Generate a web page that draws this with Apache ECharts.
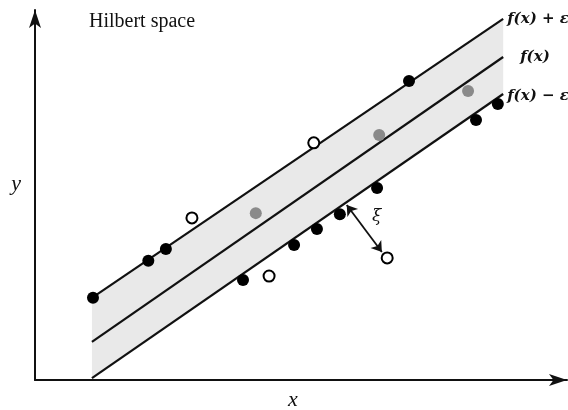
<!DOCTYPE html>
<html><head><meta charset="utf-8">
<script src="https://cdn.jsdelivr.net/npm/echarts@6/dist/echarts.min.js"></script>
<style>html,body{margin:0;padding:0;background:#fff}#c{width:568px;height:410px}</style>
</head><body><div id="c"></div>
<script>
// regression lines (x at ends, y of the three lines)
const lineX = [1.07, 8.80];
const upperY = [2.22, 9.76];
const centerY = [1.03, 8.73];
const lowerY = [0.05, 7.73];
const lineNames = ['f(x) + ε', 'f(x)', 'f(x) − ε'];

// samples
const blackPts = [[1.09,2.22],[2.13,3.22],[2.46,3.54],[3.91,2.70],[4.87,3.65],[5.30,4.08],[5.73,4.48],[6.43,5.19],[7.03,8.08],[8.29,7.03],[8.70,7.46]];
const grayPts = [[4.15,4.51],[6.47,6.62],[8.14,7.81]];
const openPts = [[2.95,4.38],[4.40,2.81],[5.24,6.41],[6.62,3.30]];

// slack arrow
const arrowPts = [[5.86,4.73],[6.52,3.46]];
const arrowLabel = 'ξ';
const titleText = 'Hilbert space';
const xName = 'x';
const yName = 'y';

const serif = 'Liberation Serif';
const mathFont = 'DejaVu Serif';

const chart = echarts.init(document.getElementById('c'), null, {renderer:'canvas'});

function pairs(ys){ return lineX.map((x,i)=>[x, ys[i]]); }
const bandData = lineX.map((x,i)=>[x, lowerY[i], upperY[i]]);

function regLine(name, ys, offset){
  return {
    type:'line', name, data:pairs(ys), symbol:'none', silent:true, z:3,
    lineStyle:{color:'#111', width:2.2},
    endLabel:{show:true, formatter:name, offset:offset, distance:2,
      fontFamily:mathFont, fontStyle:'italic', fontWeight:'bold', fontSize:15, color:'#111'}
  };
}

chart.setOption({
  animation:false,
  backgroundColor:'#fff',
  grid:{left:35, right:1, top:10, bottom:30, containLabel:false, outerBoundsMode:'none'},
  xAxis:{type:'value', min:0, max:10, name:xName, nameLocation:'middle', nameGap:9,
    nameTextStyle:{fontFamily:serif, fontStyle:'italic', fontSize:22, color:'#111', verticalAlign:'top', padding:[0,16,0,0]},
    axisLine:{show:true, onZero:false, symbol:['none','arrow'], symbolSize:[9,18], lineStyle:{color:'#111', width:2}},
    axisTick:{show:false}, axisLabel:{show:false}, splitLine:{show:false}},
  yAxis:{type:'value', min:0, max:10, name:yName, nameLocation:'middle', nameGap:14, nameRotate:0,
    nameTextStyle:{fontFamily:serif, fontStyle:'italic', fontSize:22, color:'#111', verticalAlign:'bottom'},
    axisLine:{show:true, onZero:false, symbol:['none','arrow'], symbolSize:[9,18], lineStyle:{color:'#111', width:2}},
    axisTick:{show:false}, axisLabel:{show:false}, splitLine:{show:false}},
  graphic:[
    {type:'text', left:89, top:12, z:10, style:{text:titleText, font:'20px "Liberation Serif"', fill:'#111'}},
    {type:'text', left:372, top:208, z:10, style:{text:arrowLabel, font:'italic 17px "DejaVu Serif"', fill:'#111'}}
  ],
  series:[
    {type:'custom', silent:true, z:1, data:bandData,
      renderItem:function(params, api){
        if (params.dataIndex !== 0) return null;
        const top = bandData.map(d=>api.coord([d[0], d[2]]));
        const bot = bandData.map(d=>api.coord([d[0], d[1]])).reverse();
        return {type:'polygon', shape:{points: top.concat(bot)}, style:{fill:'#e9e9e9'}};
      }},
    regLine(lineNames[0], upperY, [2,0]),
    regLine(lineNames[1], centerY, [15,0]),
    regLine(lineNames[2], lowerY, [2,2]),
    {type:'lines', coordinateSystem:'cartesian2d', data:[{coords:arrowPts}], symbol:['arrow','arrow'], symbolSize:10,
      lineStyle:{color:'#111', width:1.8, opacity:1}, z:4, silent:true},
    {type:'scatter', data:blackPts, symbol:'circle', symbolSize:12, itemStyle:{color:'#000', opacity:1}, z:5},
    {type:'scatter', data:grayPts, symbol:'circle', symbolSize:12, itemStyle:{color:'#8a8a8a', opacity:1}, z:5},
    {type:'scatter', data:openPts, symbol:'circle', symbolSize:11, itemStyle:{color:'#fff', borderColor:'#000', borderWidth:2, opacity:1}, z:5}
  ]
});
</script></body></html>
